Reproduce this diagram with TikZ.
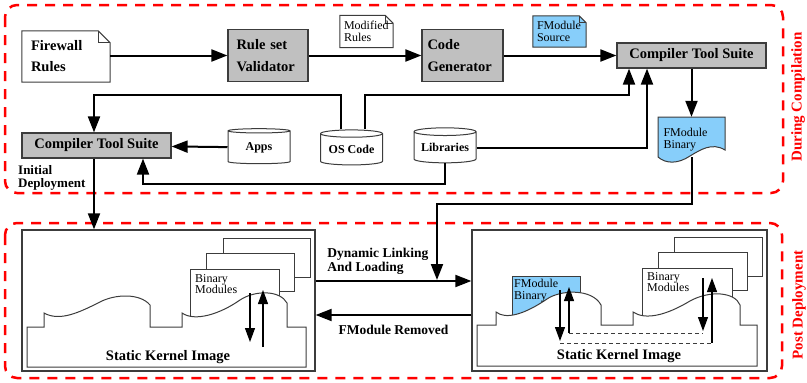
\documentclass[tikz,border=0pt]{standalone}
\usepackage{fontspec}
\setmainfont{Liberation Serif}
\usetikzlibrary{shapes.geometric, arrows.meta, positioning, backgrounds}

\definecolor{toolgray}{RGB}{192,192,192}
\definecolor{modblue}{RGB}{135,206,250}
\definecolor{edgegray}{RGB}{60,60,60}

% dog-eared sheet drawn behind a node: fill, node name, fold size
\newcommand{\pageshape}[3]{%
  \draw[edgegray, line width=1pt, fill=#1] (#2.south west) -- (#2.north west)
    -- ([xshift=-#3]#2.north east) -- ([yshift=-#3]#2.north east)
    -- (#2.south east) -- cycle;
  \draw[edgegray, line width=0.8pt] ([xshift=-#3]#2.north east) |- ([yshift=-#3]#2.north east);}

\begin{document}
\begin{tikzpicture}[x=1pt, y=-1pt,
    tool/.style={rectangle, draw=edgegray, line width=1.2pt, fill=toolgray, inner sep=0pt,
      font=\fontsize{14.5}{22}\selectfont\bfseries},
    page/.style={rectangle, inner sep=0pt, align=left},
    store/.style={cylinder, shape border rotate=90, aspect=0.16, draw=edgegray, line width=1pt,
      fill=white, minimum width=62pt, minimum height=35pt, inner sep=0pt,
      font=\fontsize{12}{14}\selectfont\bfseries},
    arrow/.style={-{Triangle[length=16pt,width=12pt]}, line width=2pt},
    karrow/.style={-{Triangle[length=14pt,width=10pt]}, line width=1.1pt},
    kernel/.style={rectangle, draw=edgegray, line width=1.3pt, inner sep=0pt},
    part/.style={draw=edgegray, line width=1pt, fill=white},
    link/.style={draw=edgegray, line width=0.9pt, dash pattern=on 4pt off 3pt},
    stage/.style={draw=red, line width=2.5pt, dash pattern=on 10pt off 8pt, rounded corners=12pt},
    stagelabel/.style={red, rotate=90, font=\fontsize{15}{18}\selectfont\bfseries},
    flow/.style={font=\fontsize{13.5}{14}\selectfont\bfseries, align=left, inner sep=1pt},
    small/.style={font=\fontsize{12}{11.5}\selectfont, align=left, inner sep=0pt},
    caption/.style={font=\fontsize{14.5}{16}\selectfont\bfseries, inner sep=0pt}
  ]
  \useasboundingbox (0,0) rectangle (807,383);

  % stage frames
  \draw[stage] (5,5) rectangle (783,193);
  \draw[stage] (5,223) rectangle (782,378);
  \node[stagelabel] (compilelbl) at (798,97) {During Compilation};
  \node[stagelabel] (deploylbl) at (799,305) {Post Deployment};

  % compilation chain
  \node[page, minimum width=88pt, minimum height=51pt, text width=70pt,
        font=\fontsize{14.5}{21}\selectfont\bfseries] (rules) at (66,56.5) {Firewall\\Rules};
  \node[tool, minimum width=80pt, minimum height=52pt, text width=63pt, align=left] (validator) at (268,55.5) {Rule set\\Validator};
  \node[tool, minimum width=81pt, minimum height=52pt, text width=70pt, align=left] (codegen) at (462.5,55.5) {Code\\Generator};
  \node[tool, minimum width=149pt, minimum height=25pt] (suiteA) at (691.5,55.5) {Compiler Tool Suite};
  \node[page, small, minimum width=53pt, minimum height=32pt, text width=45pt] (modrules) at (366.5,31.5) {Modified\\Rules};
  \node[page, small, minimum width=53pt, minimum height=31pt, text width=45pt] (modsrc) at (559.5,31.5) {FModule\\Source};

  % sources and the kernel build
  \node[store] (apps) at (259,147.5) {Apps};
  \node[store] (oscode) at (351.5,149.5) {OS Code};
  \node[store] (libs) at (445,147.5) {Libraries};
  \node[tool, minimum width=149pt, minimum height=25pt] (suiteB) at (96.5,145.5) {Compiler Tool Suite};
  \node[page, small, minimum width=67pt, minimum height=45pt, text width=56pt] (binaryA) at (691.5,139.5) {FModule\\Binary};
  \node[flow, anchor=north west, inner sep=0pt, font=\fontsize{13}{13}\selectfont\bfseries] (initdep) at (18,165) {Initial\\Deployment};

  \begin{scope}[on background layer]
    \pageshape{white}{rules}{12pt}
    \pageshape{white}{modrules}{8pt}
    \pageshape{modblue}{modsrc}{7pt}
    \draw[part, fill=modblue] (658,117) -- (725,117) -- (725,150)
      .. controls (712,142) and (700,150) .. (690,156)
      .. controls (678,164) and (666,164) .. (658,157) -- cycle;
  \end{scope}

  % running kernels
  \node[kernel, minimum width=293pt, minimum height=141pt] (kernelL) at (168.5,300.5) {};
  \node[kernel, minimum width=295pt, minimum height=141pt] (kernelR) at (619.5,300.5) {};

  % left kernel: static image with loaded modules
  \draw[part] (223,238) rectangle (310,277);
  \draw[part] (206,253) rectangle (294,291);
  \draw[part] (190,269) rectangle (279,320);
  \draw[part] (27,367) -- (27,327) -- (44,327) -- (44,313)
    .. controls (60,322) and (80,312) .. (100,302) .. controls (115,294) and (140,293) .. (150,305)
    -- (150,327) -- (182,327) -- (182,313)
    .. controls (195,322) and (220,314) .. (240,300) .. controls (255,290) and (280,290) .. (287,303)
    -- (287,327) -- (306,327) -- (306,367) -- cycle;
  \node[small, anchor=north west] (modsL) at (195,274) {Binary\\Modules};
  \draw[karrow] (250,293) -- (250,342);
  \draw[karrow] (263,347) -- (263,290);
  \node[caption, anchor=base] (imgL) at (168,360) {Static Kernel Image};

  % right kernel: firewall module linked in
  \draw[part] (674,237) rectangle (762,276);
  \draw[part] (658,252) rectangle (747,290);
  \draw[part] (642,268) rectangle (732,320);
  \draw[part, fill=modblue] (512,320) -- (512,276) -- (580,276) -- (580,320) -- cycle;
  \draw[part] (477,366) -- (477,325) -- (496,325) -- (496,312)
    .. controls (506,320) and (525,314) .. (547,299) .. controls (560,290) and (592,288) .. (601,305)
    -- (601,325) -- (633,325) -- (633,312)
    .. controls (645,320) and (665,316) .. (690,301) .. controls (710,290) and (735,292) .. (740,305)
    -- (740,325) -- (757,325) -- (757,366) -- cycle;
  \node[small, anchor=north west] (fmodR) at (514,279) {FModule\\Binary};
  \node[small, anchor=north west] (modsR) at (647,272) {Binary\\Modules};
  \draw[karrow] (560,290) -- (560,341);
  \draw[karrow] (569,333) -- (569,287);
  \draw[karrow] (703,278) -- (703,331);
  \draw[karrow] (712,343) -- (712,278);
  \draw[link] (569,333) -- (703,333);
  \draw[link] (560,343) -- (712,343);
  \node[caption, anchor=base] (imgR) at (619,359) {Static Kernel Image};

  \coordinate (joinpt) at (437,280);

  % connections
  \draw[arrow] (rules.east |- validator.west) -- (validator);
  \draw[arrow] (validator) -- (codegen);
  \draw[arrow] (codegen) -- (suiteA);
  \draw[arrow] ([xshift=13.5pt]oscode.north) -- ++(0,-34) -| ([xshift=-62.5pt]suiteA.south);
  \draw[arrow] ([xshift=-11pt]oscode.north) -- ++(0,-34) -| ([xshift=-2.5pt]suiteB.north);
  \draw[arrow] (libs.east) -| ([xshift=-44.5pt]suiteA.south);
  \draw[arrow] (libs.south) -- ++(0,21) -| ([xshift=46.5pt]suiteB.south);
  \draw[arrow] (apps) -- (suiteB);
  \draw[arrow] (suiteA) -- (binaryA);
  \draw[arrow] ([yshift=5pt]binaryA.south) -- ++(0,47) -| (joinpt);
  \draw[arrow] ([xshift=-2.5pt]suiteB.south) -- ([xshift=-2.5pt]suiteB.south |- kernelL.north);
  \draw[arrow] ([yshift=19.5pt]kernelL.east) -- node[flow, above=5pt, pos=0.4] (linklbl) {Dynamic Linking\\And Loading} ([yshift=19.5pt]kernelR.west);
  \draw[arrow] ([yshift=-14.5pt]kernelR.west) -- node[flow, below=8pt] (removelbl) {FModule Removed} ([yshift=-14.5pt]kernelL.east);

\end{tikzpicture}
\end{document}
